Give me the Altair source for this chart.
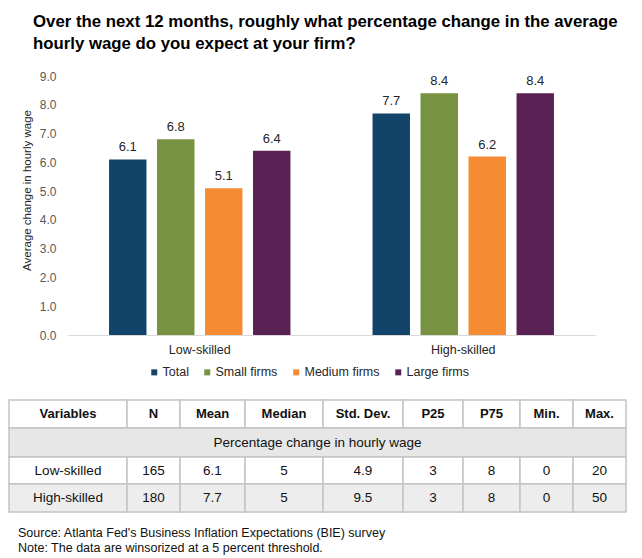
import altair as alt
import pandas as pd

# ---------------- data ----------------
TITLE_LINES = [
    "Over the next 12 months, roughly what percentage change in the average",
    "hourly wage do you expect at your firm?",
]
Y_TITLE = "Average change in hourly wage"
GROUPS = ["Low-skilled", "High-skilled"]
SERIES = ["Total", "Small firms", "Medium firms", "Large firms"]
LOW_SKILLED = [6.1, 6.8, 5.1, 6.4]
HIGH_SKILLED = [7.7, 8.4, 6.2, 8.4]
Y_TICKS = [0, 1, 2, 3, 4, 5, 6, 7, 8, 9]

TABLE_HEADER = ["Variables", "N", "Mean", "Median", "Std. Dev.", "P25", "P75", "Min.", "Max."]
TABLE_SECTION = "Percentage change in hourly wage"
TABLE_LOW = ["Low-skilled", "165", "6.1", "5", "4.9", "3", "8", "0", "20"]
TABLE_HIGH = ["High-skilled", "180", "7.7", "5", "9.5", "3", "8", "0", "50"]
NOTES = [
    "Source: Atlanta Fed's Business Inflation Expectations (BIE) survey",
    "Note: The data are winsorized at a 5 percent threshold.",
]

# ---------------- layout / style ----------------
FONT = "Liberation Sans, Arial, sans-serif"
COLORS = ["#114468", "#779240", "#F58B33", "#5A2155"]
COL_EDGES = [9, 127, 180, 245, 323, 403, 463, 520, 573, 626]
ROW_EDGES = [400, 428, 457, 484, 512]
ROW_FILLS = ["#FFFFFF", "#E7E7E7", "#FFFFFF", "#EDEDED"]
W, H = 642, 558

# ---------------- bar chart ----------------
bars_df = pd.DataFrame(
    [
        {"group": g, "series": s, "value": v}
        for g, vals in zip(GROUPS, [LOW_SKILLED, HIGH_SKILLED])
        for s, v in zip(SERIES, vals)
    ]
)

base = alt.Chart(bars_df).encode(
    x=alt.X(
        "group:N",
        sort=GROUPS,
        scale=alt.Scale(range=[68, 595], paddingInner=0, paddingOuter=0),
        axis=alt.Axis(
            title=None, labelAngle=0, ticks=False, domainColor="#D9D9D9",
            domainWidth=1, labelFont=FONT, labelFontSize=12.5,
            labelColor="#262626", labelPadding=8, offset=-(H - 335),
        ),
    ),
    xOffset=alt.XOffset(
        "series:N", sort=SERIES,
        scale=alt.Scale(paddingInner=0.22, paddingOuter=0.855),
    ),
    y=alt.Y(
        "value:Q",
        scale=alt.Scale(domain=[0, 9], range=[335, 76], nice=False),
        axis=alt.Axis(
            values=Y_TICKS, format=".1f", grid=False, domain=False, ticks=False,
            labelPadding=12, offset=-68, labelFont=FONT, labelFontSize=12,
            labelColor="#595959", title=Y_TITLE, titleFont=FONT,
            titleFontSize=11.5, titleFontWeight="normal", titleColor="#262626",
            titleX=-41, titleY=190, titleBaseline="middle", titleAlign="center",
        ),
    ),
)

bars = base.mark_bar().encode(
    color=alt.Color(
        "series:N",
        sort=SERIES,
        scale=alt.Scale(domain=SERIES, range=COLORS),
        legend=alt.Legend(
            title=None, orient="none", legendX=148, legendY=366,
            direction="horizontal", symbolType="square", symbolSize=36,
            symbolStrokeWidth=0, labelFont=FONT, labelFontSize=12.5,
            labelColor="#262626", columnPadding=12, labelOffset=2,
        ),
    )
)
labels = base.mark_text(
    dy=-8, baseline="alphabetic", font=FONT, fontSize=13, color="#262626"
).encode(text=alt.Text("value:Q", format=".1f"))

bar_layer = alt.layer(bars, labels)

# ---------------- table ----------------
cells = []
rows = [TABLE_HEADER, [TABLE_SECTION], TABLE_LOW, TABLE_HIGH]
for r, row in enumerate(rows):
    y0, y1 = ROW_EDGES[r], ROW_EDGES[r + 1]
    if len(row) == 1:
        spans = [(COL_EDGES[0], COL_EDGES[-1])]
    else:
        spans = list(zip(COL_EDGES[:-1], COL_EDGES[1:]))
    for (x0, x1), lab in zip(spans, row):
        cells.append({
            "x0": x0, "x1": x1, "y0": y0, "y1": y1,
            "xc": (x0 + x1) / 2, "yc": (y0 + y1) / 2,
            "label": lab, "fill": ROW_FILLS[r], "header": r == 0,
        })
cells_df = pd.DataFrame(cells)

XS = alt.Scale(domain=[0, W], range=[0, W], nice=False, zero=False)
YS = alt.Scale(domain=[0, H], range=[0, H], nice=False, zero=False)

rects = alt.Chart(cells_df).mark_rect(stroke="#C4C4C4", strokeWidth=1.5).encode(
    x=alt.X("x0:Q", scale=XS, axis=None),
    x2="x1:Q",
    y=alt.Y("y0:Q", scale=YS, axis=None),
    y2="y1:Q",
    fill=alt.Fill("fill:N", scale=None),
)

head_text = alt.Chart(cells_df[cells_df["header"]]).mark_text(
    font=FONT, fontSize=13, fontWeight="bold", color="#111111", baseline="middle"
).encode(
    x=alt.X("xc:Q", scale=XS, axis=None),
    y=alt.Y("yc:Q", scale=YS, axis=None),
    text="label:N",
)
body_text = alt.Chart(cells_df[~cells_df["header"]]).mark_text(
    font=FONT, fontSize=13.5, color="#111111", baseline="middle"
).encode(
    x=alt.X("xc:Q", scale=XS, axis=None),
    y=alt.Y("yc:Q", scale=YS, axis=None),
    text="label:N",
)

title_df = pd.DataFrame({"text": TITLE_LINES, "x": [33, 33], "y": [22, 44]})
title_text = alt.Chart(title_df).mark_text(
    font=FONT, fontSize=16.8, fontWeight="bold", color="#000000",
    align="left", baseline="middle",
).encode(
    x=alt.X("x:Q", scale=XS, axis=None),
    y=alt.Y("y:Q", scale=YS, axis=None),
    text="text:N",
)

notes_df = pd.DataFrame({"text": NOTES, "x": [18, 18], "y": [533, 548]})
notes_text = alt.Chart(notes_df).mark_text(
    font=FONT, fontSize=12.5, color="#111111", align="left", baseline="middle"
).encode(
    x=alt.X("x:Q", scale=XS, axis=None),
    y=alt.Y("y:Q", scale=YS, axis=None),
    text="text:N",
)

table_layer = alt.layer(rects, head_text, body_text, title_text, notes_text)

chart = (
    alt.layer(bar_layer, table_layer)
    .resolve_scale(x="independent", y="independent")
    .properties(width=W, height=H, autosize=alt.AutoSizeParams(type="none"), padding=0,
                background="white")
    .configure_view(stroke=None)
)

chart.save("out.html", embed_options={"renderer": "svg", "actions": False})
